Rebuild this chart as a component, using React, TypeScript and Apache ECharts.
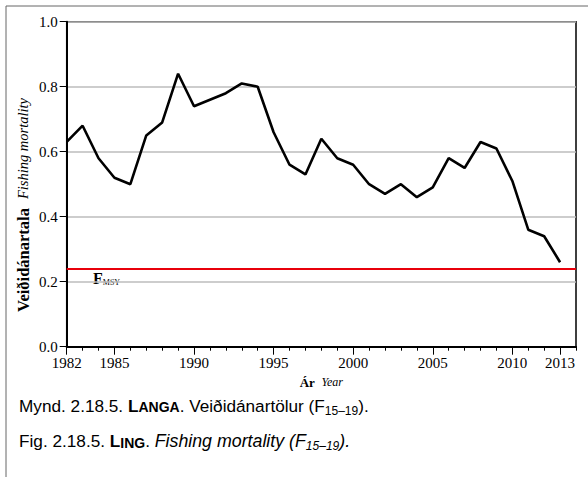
import React, { useEffect, useRef } from "react";
import * as echarts from "echarts";

const years = [
  1982, 1983, 1984, 1985, 1986, 1987, 1988, 1989, 1990, 1991, 1992, 1993, 1994, 1995, 1996, 1997,
  1998, 1999, 2000, 2001, 2002, 2003, 2004, 2005, 2006, 2007, 2008, 2009, 2010, 2011, 2012, 2013,
];
const axisEndYear = 2014;
const fishingMortality = [
  0.63, 0.68, 0.58, 0.52, 0.5, 0.65, 0.69, 0.84, 0.74, 0.76, 0.78, 0.81, 0.8, 0.66, 0.56, 0.53,
  0.64, 0.58, 0.56, 0.5, 0.47, 0.5, 0.46, 0.49, 0.58, 0.55, 0.63, 0.61, 0.51, 0.36, 0.34, 0.26,
];
const labeledYears = [1982, 1985, 1990, 1995, 2000, 2005, 2010, 2013];
const fmsy = 0.24;

const SERIF = "'Liberation Serif', 'Times New Roman', serif";
const SANS = "'Liberation Sans', Arial, sans-serif";
const CAP = 17.2;
const CAP_IT = 17.8;
const CAP_SC = 14;
const CAP_SUB = 12;

export default function App() {
  const ref = useRef<HTMLDivElement>(null);
  useEffect(() => {
    if (!ref.current) return;
    const chart = echarts.init(ref.current, undefined, { renderer: "svg" });
    const categories = [...years, axisEndYear].map(String);
    const isLabeled = (idx: number) => labeledYears.indexOf(Number(categories[idx])) >= 0;

    const option: any = {
      animation: false,
      backgroundColor: "#fff",
      grid: {
        left: 66.7,
        right: 12,
        top: 21.7,
        bottom: 130.3,
        show: true,
        borderColor: "#000",
        borderWidth: 1.5,
        backgroundColor: "transparent",
      },
      xAxis: [
        {
          type: "category",
          data: categories,
          boundaryGap: false,
          axisLine: { show: true, lineStyle: { color: "#000", width: 2 } },
          axisTick: { show: true, length: 8, interval: (i: number) => isLabeled(i), lineStyle: { color: "#000", width: 1 } },
          axisLabel: {
            interval: (i: number) => isLabeled(i),
            margin: 9,
            color: "#000",
            fontFamily: SERIF,
            fontSize: 15,
          },
          splitLine: { show: false },
          name: "{b|Ár}  {i|Year}",
          nameLocation: "middle",
          nameGap: 26,
          nameTextStyle: {
            rich: {
              b: { fontFamily: SERIF, fontWeight: "bold", fontSize: 13, color: "#000" },
              i: { fontFamily: SERIF, fontStyle: "italic", fontSize: 12, color: "#000" },
            },
          },
        },
        {
          type: "category",
          data: categories,
          boundaryGap: false,
          position: "bottom",
          axisLine: { show: false },
          axisTick: { show: true, length: 4, interval: 0, lineStyle: { color: "#000", width: 1 } },
          axisLabel: { show: false },
          splitLine: { show: false },
        },
      ],
      yAxis: {
        type: "value",
        min: 0,
        max: 1,
        interval: 0.2,
        axisLine: { show: true, lineStyle: { color: "#000", width: 2 } },
        axisTick: { show: true, length: 7, lineStyle: { color: "#000", width: 1 } },
        axisLabel: {
          margin: 9,
          color: "#000",
          fontFamily: SERIF,
          fontSize: 15,
          formatter: (v: number) => v.toFixed(1),
        },
        splitLine: { show: true, lineStyle: { color: "#bdbdbd", width: 1.5 } },
      },
      series: [
        {
          name: "F",
          type: "line",
          data: fishingMortality,
          xAxisIndex: 0,
          showSymbol: false,
          symbol: "none",
          lineStyle: { color: "#000", width: 2.6 },
          markLine: {
            silent: true,
            symbol: ["none", "none"],
            label: { show: false },
            lineStyle: { color: "#e8000b", width: 2, type: "solid" },
            data: [{ yAxis: fmsy }],
          },
        },
      ],
      graphic: [
        {
          type: "line",
          shape: { x1: 6, y1: 6, x2: 588, y2: 6 },
          style: { stroke: "#666", lineWidth: 1 },
        },
        {
          type: "line",
          shape: { x1: 6, y1: 6, x2: 6, y2: 477 },
          style: { stroke: "#666", lineWidth: 1 },
        },
        {
          type: "text",
          x: 23,
          y: 205,
          rotation: Math.PI / 2,
          style: {
            text: "{b|Veiðidánartala}{i|Fishing mortality}",
            align: "center",
            verticalAlign: "middle",
            rich: {
              b: { fontFamily: SERIF, fontWeight: "bold", fontSize: 16.5, fill: "#000", lineHeight: 19, padding: [0, 9, 0, 0] },
              i: { fontFamily: SERIF, fontStyle: "italic", fontSize: 14.5, fill: "#000", lineHeight: 19 },
            },
          },
        },
        {
          type: "text",
          left: 93,
          top: 270,
          style: {
            text: "{F|F}{s|MSY}",
            rich: {
              F: { fontFamily: SERIF, fontWeight: "bold", fontSize: 16, fill: "#000", lineHeight: 15 },
              s: { fontFamily: SERIF, fontSize: 8, fill: "#000", padding: [8, 0, 0, 0] },
            },
          },
        },
        {
          type: "text",
          left: 19,
          top: 397,
          style: {
            text: "{n|Mynd. 2.18.5. }{bl|L}{bs|ANGA}{n|. Veiðidánartölur (F}{sub|15–19}{n|).}",
            rich: {
              n: { fontFamily: SANS, fontSize: CAP, fill: "#000", lineHeight: 22 },
              bl: { fontFamily: SANS, fontSize: CAP, fontWeight: "bold", fill: "#000", lineHeight: 22 },
              bs: { fontFamily: SANS, fontSize: CAP_SC, fontWeight: "bold", fill: "#000", padding: [3, 0, 0, 0] },
              sub: { fontFamily: SANS, fontSize: CAP_SUB, fill: "#000", padding: [10, 0, 0, 0] },
            },
          },
        },
        {
          type: "text",
          left: 19,
          top: 432,
          style: {
            text: "{n|Fig. 2.18.5. }{bl|L}{bs|ING}{n|. }{i|Fishing mortality (F}{isub|15–19}{i|).}",
            rich: {
              n: { fontFamily: SANS, fontSize: CAP, fill: "#000", lineHeight: 22 },
              i: { fontFamily: SANS, fontSize: CAP_IT, fontStyle: "italic", fill: "#000", lineHeight: 22 },
              bl: { fontFamily: SANS, fontSize: CAP, fontWeight: "bold", fill: "#000", lineHeight: 22 },
              bs: { fontFamily: SANS, fontSize: CAP_SC, fontWeight: "bold", fill: "#000", padding: [3, 0, 0, 0] },
              isub: { fontFamily: SANS, fontSize: CAP_SUB, fontStyle: "italic", fill: "#000", padding: [10, 0, 0, 0] },
            },
          },
        },
      ],
    };
    chart.setOption(option);
    return () => chart.dispose();
  }, []);
  return <div ref={ref} style={{ position: "absolute", left: 0, top: 0, width: 588, height: 477 }} />;
}
